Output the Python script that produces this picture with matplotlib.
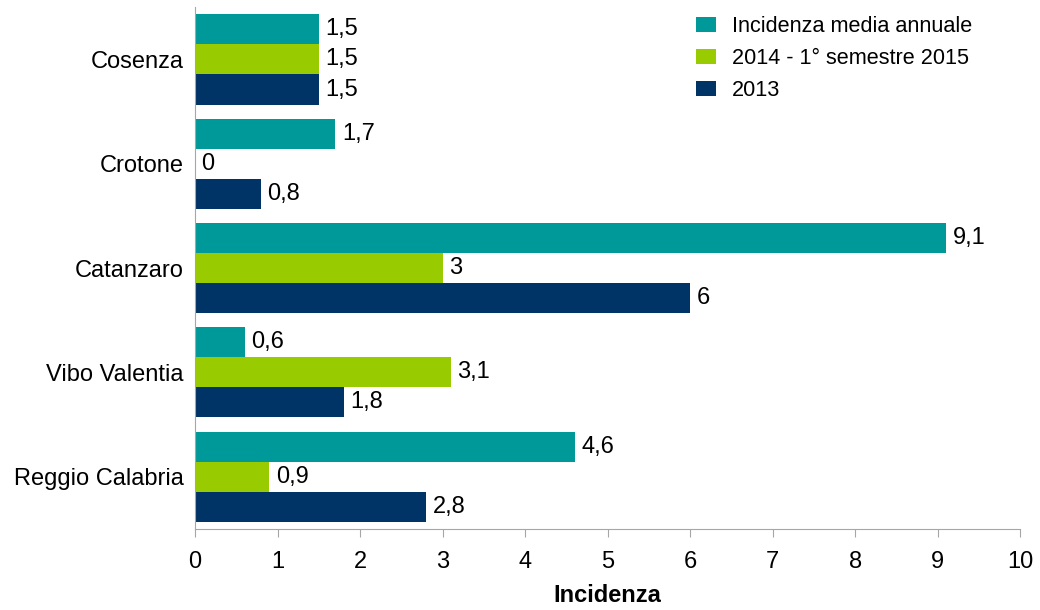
import matplotlib
matplotlib.use("Agg")
import matplotlib.pyplot as plt
import numpy as np

plt.rcParams['font.family'] = ['Liberation Sans', 'DejaVu Sans']

# dati
province = ["Cosenza", "Crotone", "Catanzaro", "Vibo Valentia", "Reggio Calabria"]
serie = ["Incidenza media annuale", "2014 - 1° semestre 2015", "2013"]
incidenza_media = [1.5, 1.7, 9.1, 0.6, 4.6]
semestre_2015 = [1.5, 0, 3, 3.1, 0.9]
anno_2013 = [1.5, 0.8, 6, 1.8, 2.8]
colori = ["#009999", "#99CC00", "#003366"]

valori = [incidenza_media, semestre_2015, anno_2013]

fig = plt.figure(figsize=(10.4, 6.1), dpi=100)
ax = fig.add_axes([0.1875, 0.133, 0.7935, 0.855])

y = np.arange(len(province))
h = 0.288
for i, (nome, vals) in enumerate(zip(serie, valori)):
    pos = y + (i - 1) * h
    ax.barh(pos, vals, height=h, color=colori[i], label=nome)
    for p, v in zip(pos, vals):
        testo = ("%g" % v).replace(".", ",")
        ax.text(v + 0.08, p, testo, va="center", ha="left", fontsize=17)

ax.set_ylim(len(province) - 0.5, -0.5)
ax.set_xlim(0, 10)
ax.set_xticks(range(11))
ax.set_yticks(y)
ax.set_yticklabels(province, fontsize=17)
ax.tick_params(axis="x", labelsize=17, length=6, color="#a6a6a6", pad=10)
ax.tick_params(axis="y", length=0, pad=8)
for s in ["top", "right"]:
    ax.spines[s].set_visible(False)
for s in ["left", "bottom"]:
    ax.spines[s].set_color("#a6a6a6")
ax.set_xlabel("Incidenza", fontsize=17, fontweight="bold", labelpad=8)

ax.legend(loc="upper right", bbox_to_anchor=(0.965, 1.02), frameon=False, fontsize=15.6,
          handlelength=0.95, handleheight=0.7, labelspacing=0.5, handletextpad=0.7)

fig.savefig("out.png", dpi=100)
